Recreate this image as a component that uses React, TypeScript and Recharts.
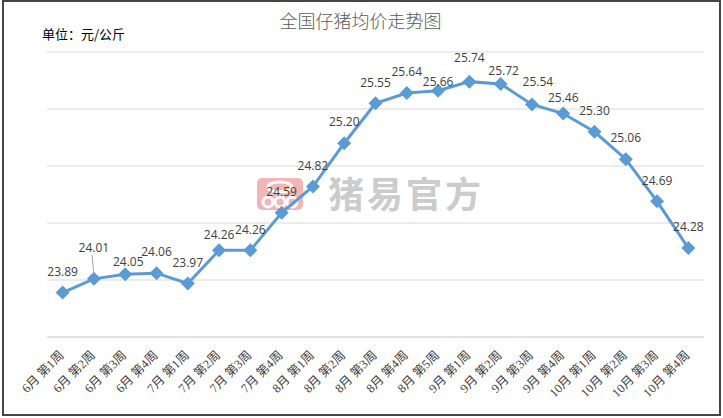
import { LineChart, Line, XAxis, YAxis, CartesianGrid, LabelList, Customized } from 'recharts';

const weeks = [
  '6月 第1周', '6月 第2周', '6月 第3周', '6月 第4周',
  '7月 第1周', '7月 第2周', '7月 第3周', '7月 第4周',
  '8月 第1周', '8月 第2周', '8月 第3周', '8月 第4周', '8月 第5周',
  '9月 第1周', '9月 第2周', '9月 第3周', '9月 第4周',
  '10月 第1周', '10月 第2周', '10月 第3周', '10月 第4周',
];
const prices = [
  23.89, 24.01, 24.05, 24.06,
  23.97, 24.26, 24.26, 24.59,
  24.82, 25.2, 25.55, 25.64, 25.66,
  25.74, 25.72, 25.54, 25.46,
  25.3, 25.06, 24.69, 24.28,
];
const yTicks = [23.5, 24, 24.5, 25, 25.5, 26];

const data = weeks.map((week, i) => ({ week, price: prices[i] }));

// label placement tweaks (dx, distance above point), like the hand-moved labels in the original
const labelNudge: Record<number, [number, number]> = {
  1: [0, 31],
  2: [3, 13],
  5: [0, 16],
  12: [0, 9],
  13: [0, 24],
  14: [3, 13],
  15: [6, 23],
  16: [0, 16],
};

const Diamond = (props: any) => {
  const { cx, cy } = props;
  if (cx == null || cy == null) return null;
  const r = 7;
  return (
    <polygon
      points={`${cx},${cy - r} ${cx + r},${cy} ${cx},${cy + r} ${cx - r},${cy}`}
      fill="#5B9BD5"
    />
  );
};

const PriceLabel = (props: any) => {
  const { x, y, value, index } = props;
  const [dx, up] = labelNudge[index] ?? [0, 21];
  return (
    <g>
      {index === 1 && <line x1={x - 2} y1={y - up + 7} x2={x} y2={y - 5} stroke="#a6a6a6" strokeWidth={1} />}
      <text
        x={x + dx}
        y={y - up}
        dy="0.35em"
        textAnchor="middle"
        fill="#404040"
        fontSize={12}
        fontFamily="'Open Sans', sans-serif"
      >
        {Number(value).toFixed(2)}
      </text>
    </g>
  );
};

const WeekTick = (props: any) => {
  const { x, y, payload } = props;
  return (
    <g transform={`translate(${x + 2},${y + 11})`}>
      <text
        textAnchor="end"
        transform="rotate(-45)"
        fill="#404040"
        fontSize={12.5}
        fontFamily="'Liberation Serif', 'Noto Sans CJK SC', serif"
      >
        {payload.value}
      </text>
    </g>
  );
};

const Watermark = () => (
  <g>
    <rect x={257} y={178} width={46} height={32} rx={5} fill="#f3b6b6" />
    <ellipse cx={280} cy={187} rx={12} ry={5} fill="none" stroke="#fff" strokeWidth={3} />
    <circle cx={268} cy={202} r={5} fill="none" stroke="#fff" strokeWidth={3} />
    <circle cx={280} cy={202} r={5} fill="none" stroke="#fff" strokeWidth={3} />
    <circle cx={292} cy={202} r={5} fill="none" stroke="#fff" strokeWidth={3} />
    <text
      x={328}
      y={208}
      fontSize={36}
      fontWeight="bold"
      fill="#cccccc"
      fontFamily="'Noto Sans CJK SC', sans-serif"
      letterSpacing={3}
    >
      猪易官方
    </text>
  </g>
);

export default function App() {
  return (
    <div style={{ position: 'absolute', left: 0, top: 0, width: 723, height: 418, background: '#fff' }}>
      <div
        style={{
          position: 'absolute',
          left: 2,
          top: 0,
          width: 715,
          height: 412,
          border: '2px solid #454545',
        }}
      />
      <div
        style={{
          position: 'absolute',
          left: 0,
          top: 8,
          width: 721,
          textAlign: 'center',
          fontSize: 18,
          color: '#595959',
          fontFamily: "'Noto Sans CJK SC', sans-serif",
          fontWeight: 300,
          lineHeight: '24px',
        }}
      >
        全国仔猪均价走势图
      </div>
      <div
        style={{
          position: 'absolute',
          left: 42,
          top: 25,
          fontSize: 13,
          color: '#000',
          fontFamily: "'Noto Sans CJK SC', sans-serif",
          lineHeight: '18px',
        }}
      >
        单位：元/公斤
      </div>
      <LineChart
        width={723}
        height={418}
        data={data}
        margin={{ top: 52, right: 19, left: 47, bottom: 0 }}
        style={{ position: 'absolute', left: 0, top: 0 }}
      >
        <Customized component={Watermark} />
        <CartesianGrid vertical={false} stroke="#d9d9d9" />
        <XAxis
          dataKey="week"
          scale="band"
          interval={0}
          height={81}
          tickLine={false}
          axisLine={{ stroke: '#d9d9d9' }}
          tick={<WeekTick />}
        />
        <YAxis hide domain={[23.5, 26]} ticks={yTicks} />
        <Line
          type="linear"
          dataKey="price"
          stroke="#5B9BD5"
          strokeWidth={3}
          dot={<Diamond />}
          activeDot={false}
          isAnimationActive={false}
        >
          <LabelList dataKey="price" content={<PriceLabel />} />
        </Line>
      </LineChart>
    </div>
  );
}
